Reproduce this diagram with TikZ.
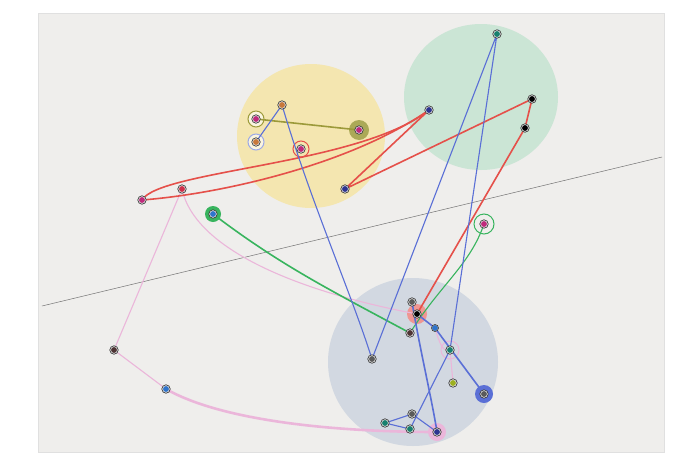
\documentclass[tikz,border=0pt]{standalone}
\definecolor{card}{HTML}{EFEEEC}
\definecolor{yellowdisc}{HTML}{F4E6B0}
\definecolor{greendisc}{HTML}{CBE5D5}
\definecolor{bluedisc}{HTML}{D2D8E1}
\definecolor{redink}{HTML}{E5504A}
\definecolor{blueink}{HTML}{5A6FD6}
\definecolor{greenink}{HTML}{38B45E}
\definecolor{oliveink}{HTML}{9C9A3A}
\definecolor{pinkink}{HTML}{EBB6DA}
\definecolor{dmagenta}{HTML}{C02A7C}
\definecolor{dorange}{HTML}{C8783A}
\definecolor{dnavy}{HTML}{2E3490}
\definecolor{dteal}{HTML}{17806E}
\definecolor{dred}{HTML}{D0304A}
\definecolor{dblue}{HTML}{2F74CC}
\definecolor{dbrown}{HTML}{4E3434}
\definecolor{dgray}{HTML}{5A5A5A}
\definecolor{dlime}{HTML}{9DB020}
\begin{document}
\begin{tikzpicture}[x=1pt,y=-1pt,
  dot/.style={circle,draw=black!80,line width=0.6pt,fill=black!15,inner sep=0pt,minimum size=8.5pt,
    path picture={\fill[#1] (path picture bounding box.center) circle[radius=2.9pt];}},
  ink/.style={line width=1.6pt,line cap=round},
  thinink/.style={line width=1.1pt,line cap=round},
  ring/.style={line width=1pt}]
\useasboundingbox (0,0) rectangle (700,463);
\fill[white] (0,0) rectangle (700,463);
\fill[card] (38,13) rectangle (664,452);
\draw[black!12] (38,13) rectangle (664,452);

\fill[yellowdisc] (311,136) ellipse [x radius=74,y radius=72];
\fill[greendisc] (481,97) ellipse [x radius=77,y radius=73];
\fill[bluedisc] (413,362) ellipse [x radius=85,y radius=84];
\draw[black!55,line width=0.5pt] (42,306) -- (662,157);

% yellow disc
\coordinate (o1) at (282,105);
\coordinate (m2) at (256,119);
\coordinate (o2) at (256,142);
\coordinate (m3) at (359,130);
\coordinate (m4) at (301,149);
\coordinate (n1) at (345,189);
% green disc
\coordinate (t1) at (497,34);
\coordinate (n2) at (429,110);
\coordinate (k1) at (532,99);
\coordinate (k2) at (525,128);
% left
\coordinate (m1) at (142,200);
\coordinate (r1) at (182,189);
\coordinate (b1) at (213,214);
\coordinate (w1) at (114,350);
\coordinate (b2) at (166,389);
\coordinate (m5) at (484,224);
% blue disc
\coordinate (g1) at (412,302);
\coordinate (k3) at (417,314);
\coordinate (b3) at (435,328);
\coordinate (w2) at (410,333);
\coordinate (t2) at (450,350);
\coordinate (g2) at (372,359);
\coordinate (l1) at (453,383);
\coordinate (g3) at (484,394);
\coordinate (g4) at (412,414);
\coordinate (t3) at (385,423);
\coordinate (t4) at (410,429);
\coordinate (k4) at (437,432);

% rings
\fill[oliveink!85] (m3) circle [radius=10pt];
\fill[greenink] (b1) circle [radius=8pt];
\fill[redink!60] (k3) circle [radius=10pt];
\fill[blueink] (g3) circle [radius=9pt];
\fill[pinkink] (k4) circle [radius=9pt];
\draw[ring,oliveink,fill=yellowdisc!40] (m2) circle [radius=8pt];
\draw[ring,blueink!60,fill=yellowdisc!40] (o2) circle [radius=8pt];
\draw[ring,redink] (m4) circle [radius=8pt];
\draw[ring,greenink] (m5) circle [radius=10pt];
\draw[ring,pinkink] (t2) circle [radius=9pt];

% pink
\draw[thinink,pinkink] (r1) -- (w1) -- (b2);
\draw[ink,pinkink,line width=2.6pt] (b2) .. controls (220,420) and (330,432) .. (k4);
\draw[thinink,pinkink] (r1) .. controls (195,250) and (300,292) .. (k3);
\draw[thinink,pinkink] (k3) -- (b3) .. controls (440,345) and (443,352) .. (t2) -- (l1);
% red
\draw[ink,redink] (m1) .. controls (160,170) and (360,165) .. (n2);
\draw[ink,redink] (m1) .. controls (220,194) and (350,165) .. (n2);
\draw[ink,redink] (n2) -- (n1) -- (k1) -- (k2) -- (k3);
% green
\draw[ink,greenink] (b1) .. controls (280,265) and (330,290) .. (w2);
\draw[thinink,greenink] (m5) .. controls (470,265) and (440,285) .. (w2);
% olive
\draw[ink,oliveink] (m2) -- (m3);
% blue
\draw[thinink,blueink] (o2) -- (o1) .. controls (310,200) and (350,290) .. (g2) -- (t1) -- (t2) -- (t4) -- (t3) -- (g4) -- (k4);
\draw[ink,blueink] (g1) .. controls (420,350) and (432,400) .. (k4);
\draw[ink,blueink] (k3) -- (b3) -- (g3);

% dots
\node[dot=dorange] (O1) at (o1) {};
\node[dot=dmagenta] (M2) at (m2) {};
\node[dot=dorange] (O2) at (o2) {};
\node[dot=dmagenta] (M3) at (m3) {};
\node[dot=dmagenta] (M4) at (m4) {};
\node[dot=dnavy] (N1) at (n1) {};
\node[dot=dteal] (T1) at (t1) {};
\node[dot=dnavy] (N2) at (n2) {};
\node[dot=black] (K1) at (k1) {};
\node[dot=black] (K2) at (k2) {};
\node[dot=dmagenta] (M1) at (m1) {};
\node[dot=dred] (R1) at (r1) {};
\node[dot=dblue] (B1) at (b1) {};
\node[dot=dbrown] (W1) at (w1) {};
\node[dot=dblue] (B2) at (b2) {};
\node[dot=dmagenta] (M5) at (m5) {};
\node[dot=dgray] (G1) at (g1) {};
\node[dot=black] (K3) at (k3) {};
\node[dot=dblue,minimum size=7pt] (B3) at (b3) {};
\node[dot=dbrown] (W2) at (w2) {};
\node[dot=dteal] (T2) at (t2) {};
\node[dot=dgray] (G2) at (g2) {};
\node[dot=dlime] (L1) at (l1) {};
\node[dot=dgray] (G3) at (g3) {};
\node[dot=dgray] (G4) at (g4) {};
\node[dot=dteal] (T3) at (t3) {};
\node[dot=dteal] (T4) at (t4) {};
\node[dot=dnavy] (K4) at (k4) {};
\end{tikzpicture}
\end{document}
